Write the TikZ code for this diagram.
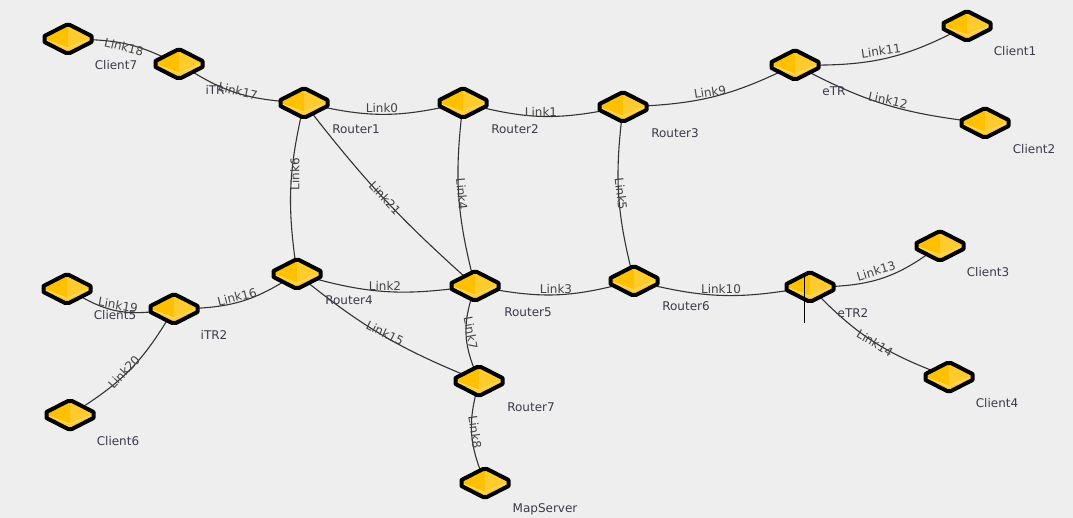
\documentclass[tikz,border=0pt]{standalone}
\usepackage{fontspec}
\setmainfont{DejaVu Sans}
\usetikzlibrary{shapes.geometric}
\definecolor{pagebg}{HTML}{EEEEEE}
\definecolor{gold}{HTML}{FFC000}
\definecolor{goldlight}{HTML}{FFCB2E}
\definecolor{goldlow}{HTML}{FFCC38}
\definecolor{goldedge}{HTML}{FFDE70}
\definecolor{txt}{HTML}{3A3A4A}
\definecolor{linktxt}{HTML}{444444}
\pgfdeclarelayer{edgelayer}
\pgfsetlayers{edgelayer,main}
\tikzset{
  x=1pt,y=-1pt,
  router/.style={diamond,inner sep=0pt,minimum width=50pt,minimum height=30pt,aspect=1.65},
  icon outline/.style={draw=black,line width=4pt,line join=round},
  name label/.style={font=\fontsize{12}{14}\selectfont,text=txt,inner sep=0pt},
  link label/.style={font=\fontsize{12}{14}\selectfont,text=linktxt,inner sep=0pt},
  link/.style={draw=black!80,line width=1.1pt},
  tick/.style={draw=black,line width=1pt}
}
\newcommand{\deviceicon}[2]{%
  \node[router] (#1) at (#2) {};
  \begin{scope}[shift={(#2)}]
    \fill[goldlow] (-23.5,-3) -- (-2,-14) -- (2,-14) -- (23.5,-3) -- (23.5,3) -- (2,14) -- (-2,14) -- (-23.5,3) -- cycle;
    \fill[gold] (-23,0) -- (0,-14) -- (0,9) -- cycle;
    \fill[goldlight] (23,0) -- (0,-14) -- (0,9) -- cycle;
    \draw[goldedge,line width=0.8pt] (-22,1) -- (0,9) -- (22,0);
    \draw[icon outline] (-23.5,-3) -- (-2,-14) -- (2,-14) -- (23.5,-3) -- (23.5,3) -- (2,14) -- (-2,14) -- (-23.5,3) -- cycle;
  \end{scope}}
\begin{document}
\begin{tikzpicture}
\useasboundingbox (0,0) rectangle (1073,518);
\begin{pgfonlayer}{edgelayer}
\fill[pagebg] (0,0) rectangle (1073,518);
\end{pgfonlayer}
% devices
\deviceicon{c7}{68,39}
\deviceicon{itr}{179,64}
\deviceicon{r1}{304,103}
\deviceicon{r2}{463,103}
\deviceicon{r3}{623,107}
\deviceicon{etr}{795,65}
\deviceicon{c1}{967,26}
\deviceicon{c2}{985,123}
\deviceicon{r4}{297,274}
\deviceicon{r5}{475,286}
\deviceicon{r6}{634,281}
\deviceicon{etr2}{810,287}
\deviceicon{c3}{940,246}
\deviceicon{c4}{949,377}
\deviceicon{r7}{479,381}
\deviceicon{ms}{485,483}
\deviceicon{c5}{67,289}
\deviceicon{itr2}{174,309}
\deviceicon{c6}{70,415}
% connectors
\begin{pgfonlayer}{edgelayer}
\draw[link] (c7) to[bend left=11] (itr);
\draw[link] (itr) to[bend right=13] (r1);
\draw[link] (r1) to[bend right=12] (r2);
\draw[link] (r2) to[bend right=12] (r3);
\draw[link] (r3) to[bend right=11] (etr);
\draw[link] (etr) to[bend right=13] (c1);
\draw[link] (etr) to[bend right=10] (c2);
\draw[link] (r1) to[bend right=10] (r4);
\draw[link] (r1) to[bend right=5] (r5);
\draw[link] (r2) to[bend right=10] (r5);
\draw[link] (r3) to[bend right=10] (r6);
\draw[link] (r4) to[bend right=11] (r5);
\draw[link] (r5) to[bend right=12] (r6);
\draw[link] (r6) to[bend right=11] (etr2);
\draw[link] (etr2) to[bend right=16] (c3);
\draw[link] (etr2) to[bend right=12] (c4);
\draw[link] (r4) to[bend right=8] (r7);
\draw[link] (r5) to[bend right=19] (r7);
\draw[link] (r7) to[bend right=17] (ms);
\draw[link] (itr2) to[bend right=14] (r4);
\draw[link] (c5) to[bend right=18] (itr2);
\draw[link] (itr2) to[bend left=13] (c6);
\end{pgfonlayer}
% the tick across eTR2
\coordinate (tickA) at (804,275);
\coordinate (tickB) at (804,323);
\draw[tick] (tickA) -- (tickB);
% device names
\node[name label] (lc7) at (116,65) {Client7};
\node[name label] (litr) at (215,90) {iTR};
\node[name label] (lr1) at (356,129) {Router1};
\node[name label] (lr2) at (515,129) {Router2};
\node[name label] (lr3) at (675,133) {Router3};
\node[name label] (letr) at (834,91) {eTR};
\node[name label] (lc1) at (1015,51) {Client1};
\node[name label] (lc2) at (1034,149) {Client2};
\node[name label] (lr4) at (349,300) {Router4};
\node[name label] (lr5) at (528,312) {Router5};
\node[name label] (lr6) at (686,306) {Router6};
\node[name label] (letr2) at (853,313) {eTR2};
\node[name label] (lc3) at (988,272) {Client3};
\node[name label] (lc4) at (997,403) {Client4};
\node[name label] (lr7) at (531,407) {Router7};
\node[name label] (lms) at (545,509) {MapServer};
\node[name label] (lc5) at (115,315) {Client5};
\node[name label] (litr2) at (214,335) {iTR2};
\node[name label] (lc6) at (118,441) {Client6};
% link names
\node[link label,rotate=-14] (l18) at (124,47) {Link18};
\node[link label,rotate=-13] (l17) at (238,91) {Link17};
\node[link label] (l0) at (382,108) {Link0};
\node[link label] (l1) at (541,112) {Link1};
\node[link label,rotate=9] (l9) at (710,92) {Link9};
\node[link label,rotate=8] (l11) at (881,51) {Link11};
\node[link label,rotate=-12] (l12) at (888,100) {Link12};
\node[link label,rotate=90] (l6) at (295,174) {Link6};
\node[link label,rotate=-47] (l21) at (385,198) {Link21};
\node[link label,rotate=-85] (l4) at (462,194) {Link4};
\node[link label,rotate=-83] (l5) at (621,194) {Link5};
\node[link label,rotate=15] (l16) at (237,297) {Link16};
\node[link label] (l2) at (385,286) {Link2};
\node[link label] (l3) at (556,289) {Link3};
\node[link label] (l10) at (721,289) {Link10};
\node[link label,rotate=17] (l13) at (876,271) {Link13};
\node[link label,rotate=-31] (l14) at (875,343) {Link14};
\node[link label,rotate=-26] (l15) at (385,333) {Link15};
\node[link label,rotate=-80] (l7) at (471,333) {Link7};
\node[link label,rotate=-82] (l8) at (475,432) {Link8};
\node[link label,rotate=-10] (l19) at (118,305) {Link19};
\node[link label,rotate=47] (l20) at (124,372) {Link20};
\end{tikzpicture}
\end{document}
